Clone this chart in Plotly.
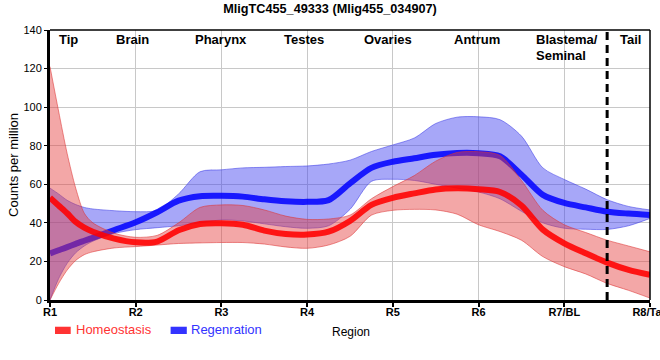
import plotly.graph_objects as go

# ---- data ----
regions = ["R1", "R2", "R3", "R4", "R5", "R6", "R7/BL", "R8/Tail"]
region_names = ["Tip", "Brain", "Pharynx", "Testes", "Ovaries", "Antrum", "Blastema/", "Tail"]

pos = [0, 0.1, 0.2, 0.3, 0.4, 0.5, 0.75, 1.0, 1.25, 1.5, 1.75, 2.0, 2.25, 2.5, 2.75, 3.0,
       3.25, 3.5, 3.75, 4.0, 4.25, 4.5, 4.75, 5.0, 5.25, 5.5, 5.75, 6.0, 6.25, 6.5, 6.75, 7.0]

homeo_mean = [53, 49, 45, 40.5, 37.5, 35.4, 31.8, 29.9, 30.3, 36.2, 39.4, 39.8, 39, 36, 34.2, 33.9,
              35.4, 41, 49.3, 53, 55.3, 57.3, 57.9, 57.4, 56, 49, 36.5, 29.4, 24.2, 19.4, 15.6, 13]
homeo_hi = [121, 98, 76, 58, 45, 40, 34.6, 32.5, 33.5, 40, 48, 49.3, 49, 46.7, 43.5, 41.8,
            42, 44, 52.5, 58.8, 64.5, 72, 76.5, 76.9, 75, 62, 46.5, 39, 35, 31, 28, 25]
homeo_lo = [0, 8.5, 15.5, 20.5, 23.5, 25, 27, 27.7, 28.5, 29.3, 29.6, 29.8, 29.8, 29, 27.5, 26.8,
            28.5, 33, 44, 46.5, 47, 46.7, 44.5, 39, 35.5, 31, 22.5, 17.3, 13.5, 8.6, 5, 1]

regen_mean = [24.2, 25.8, 27.4, 29.1, 30.7, 32.3, 36.3, 40.3, 45.5, 51.5, 53.8, 54, 53.6, 52.2, 51.2, 50.9,
              51.8, 60.5, 68.5, 71.7, 73.5, 75.3, 76.2, 76.1, 74.5, 65, 54.5, 50.3, 48, 45.8, 44.8, 44.1]
regen_hi = [58, 55, 51.7, 49.5, 48, 47.2, 46.3, 45.8, 46.5, 55, 66.5, 67.5, 68.5, 68.8, 69.2, 69.5,
            70.5, 72.5, 77, 80.4, 84, 91.5, 94.8, 95, 93.5, 85, 68.5, 62.5, 57.5, 52, 48.5, 46.7]
regen_lo = [0, 11, 19, 24.5, 28, 30.5, 34.5, 36.5, 37.5, 38.5, 40, 41.5, 41, 39.5, 38, 37.2,
            38.5, 47, 61.5, 62.6, 62, 60, 58, 56, 52.5, 46, 40, 37.2, 36.7, 36.6, 38.5, 42.3]

series_names = ["Homeostasis", "Regenration"]

FONT = "Liberation Sans, Arial, sans-serif"
RED_LINE = "rgba(255,0,0,0.88)"
BLUE_LINE = "rgba(0,0,255,0.86)"
RED_FILL = "rgba(228,60,60,0.45)"
BLUE_FILL = "rgba(60,60,240,0.45)"
RED_EDGE = "rgba(220,50,50,0.55)"
BLUE_EDGE = "rgba(60,60,230,0.55)"

fig = go.Figure()


def band(hi, lo, edge, fill):
    fig.add_trace(go.Scatter(x=pos, y=hi, mode="lines", showlegend=False, hoverinfo="skip",
                             line=dict(color=edge, width=1, shape="spline", smoothing=0.8)))
    fig.add_trace(go.Scatter(x=pos, y=lo, mode="lines", showlegend=False, hoverinfo="skip",
                             fill="tonexty", fillcolor=fill,
                             line=dict(color=edge, width=1, shape="spline", smoothing=0.8)))


band(regen_hi, regen_lo, BLUE_EDGE, BLUE_FILL)
fig.add_trace(go.Scatter(x=pos, y=regen_mean, mode="lines", name=series_names[1], showlegend=False,
                         line=dict(color=BLUE_LINE, width=6, shape="spline", smoothing=0.8)))
band(homeo_hi, homeo_lo, RED_EDGE, RED_FILL)
fig.add_trace(go.Scatter(x=pos, y=homeo_mean, mode="lines", name=series_names[0], showlegend=False,
                         line=dict(color=RED_LINE, width=6, shape="spline", smoothing=0.8)))

# region labels at the top
label_x = [0.21, 0.968, 1.99, 2.963, 3.943, 4.976, 5.647, 6.773]
annotations = []
for name, lx in zip(region_names, label_x):
    anchor = "left" if name == "Blastema/" else "center"
    annotations.append(dict(x=lx, y=0.963, xref="x", yref="paper", text="<b>%s</b>" % name,
                            showarrow=False, xanchor=anchor, yanchor="middle",
                            font=dict(family=FONT, size=13, color="black")))
annotations.append(dict(x=5.647, y=0.907, xref="x", yref="paper", text="<b>Seminal</b>",
                        showarrow=False, xanchor="left", yanchor="middle",
                        font=dict(family=FONT, size=13, color="black")))

# axis titles
annotations.append(dict(x=0.5017, y=-0.1185, xref="paper", yref="paper", text="Region",
                        showarrow=False, xanchor="center", yanchor="middle",
                        font=dict(family=FONT, size=12, color="black")))
annotations.append(dict(x=-0.0617, y=0.5, xref="paper", yref="paper", text="Counts per million",
                        showarrow=False, textangle=-90, xanchor="center", yanchor="middle",
                        font=dict(family=FONT, size=13, color="black")))

# manual legend
annotations.append(dict(x=0.04, y=-0.111, xref="paper", yref="paper", text=series_names[0],
                        showarrow=False, xanchor="left", yanchor="middle",
                        font=dict(family=FONT, size=13, color="#ff3333")))
annotations.append(dict(x=0.2317, y=-0.111, xref="paper", yref="paper", text=series_names[1],
                        showarrow=False, xanchor="left", yanchor="middle",
                        font=dict(family=FONT, size=13, color="#3333ff")))

shapes = [
    dict(type="line", xref="x", yref="paper", x0=6.5, x1=6.5, y0=0, y1=1,
         line=dict(color="black", width=3, dash="8px,5px")),
    dict(type="line", xref="paper", yref="paper", x0=0, x1=1, y0=1, y1=1,
         line=dict(color="black", width=1.5)),
    dict(type="line", xref="paper", yref="paper", x0=1, x1=1, y0=0, y1=1,
         line=dict(color="black", width=1.5)),
    dict(type="rect", xref="paper", yref="paper", x0=0.0083, x1=0.0345, y0=-0.126, y1=-0.099,
         line=dict(width=0), fillcolor="#ff3333"),
    dict(type="rect", xref="paper", yref="paper", x0=0.201, x1=0.228, y0=-0.126, y1=-0.099,
         line=dict(width=0), fillcolor="#3333ff"),
]

fig.update_layout(
    width=660, height=360,
    margin=dict(l=50, r=10, t=30, b=60),
    paper_bgcolor="white", plot_bgcolor="white",
    showlegend=False,
    title=dict(text="<b>MligTC455_49333 (Mlig455_034907)</b>", x=0.5, xanchor="center",
               y=1 - 9 / 360, yanchor="middle", font=dict(family=FONT, size=12.7, color="black")),
    xaxis=dict(range=[0, 7], tickvals=list(range(len(regions))),
               ticktext=["<b>%s</b>" % r for r in regions],
               showgrid=True, gridcolor="#c8c8c8", gridwidth=1, zeroline=False,
               showline=True, linecolor="black", linewidth=3,
               ticks="outside", ticklen=4, tickwidth=2, tickcolor="black",
               ticklabeloverflow="allow", ticklabelstandoff=-4, automargin=False,
               tickfont=dict(family=FONT, size=11, color="black")),
    yaxis=dict(range=[0, 140], tickvals=[0, 20, 40, 60, 80, 100, 120, 140],
               showgrid=True, gridcolor="#c8c8c8", gridwidth=1, zeroline=False,
               showline=True, linecolor="black", linewidth=3, automargin=False,
               ticks="outside", ticklen=3, tickwidth=1, tickcolor="black",
               tickfont=dict(family=FONT, size=11, color="black")),
    annotations=annotations,
    shapes=shapes,
)

# remove the browser's default 8px body margin so the 660x360 figure fills the window
fig.write_html("out.html", config={"displayModeBar": False},
               post_script="document.body.style.margin='0';")
